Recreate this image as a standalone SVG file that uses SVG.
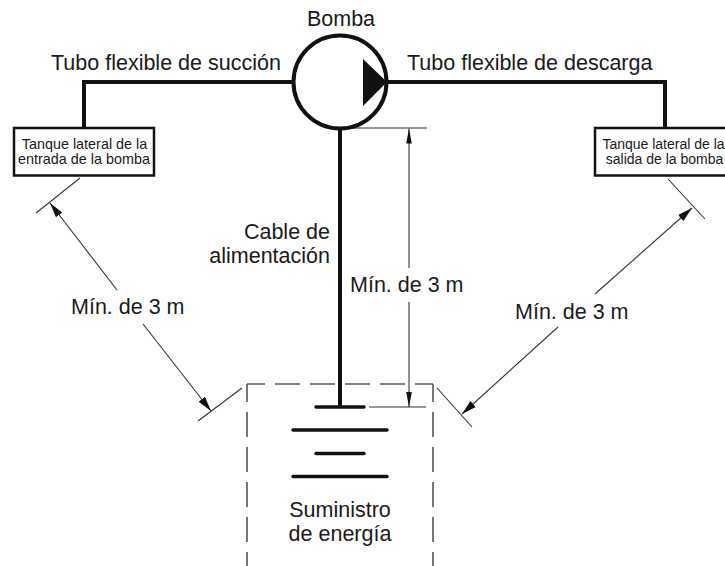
<svg xmlns="http://www.w3.org/2000/svg" width="725" height="566" viewBox="0 0 725 566">
<style>
text{font-family:"Liberation Sans",Arial,sans-serif;fill:#1a1a1a;font-size:21.5px}
.m{text-anchor:middle}
.s{font-size:14.4px}
.t{font-size:14px}
.p{fill:none;stroke:#111;stroke-width:4}
.b{fill:#fff;stroke:#111;stroke-width:2.5}
.d{fill:none;stroke:#333;stroke-width:1.1}
.da{fill:none;stroke:#555;stroke-width:1.6;stroke-dasharray:25 10;stroke-dashoffset:7}
.bar{stroke:#111;stroke-width:3.5;stroke-linecap:round}
</style>
<defs>
<marker id="a" markerUnits="userSpaceOnUse" markerWidth="16" markerHeight="8" refX="15" refY="4" orient="auto" viewBox="0 0 16 8"><path d="M0 1.200 15 4 0 6.800Z" fill="#111"/></marker>
<marker id="g" markerUnits="userSpaceOnUse" markerWidth="16" markerHeight="10" refX="15" refY="5" orient="auto" viewBox="0 0 16 10"><path d="M0 1 15 5 0 9Z" fill="#111"/></marker>
</defs>
<rect width="725" height="566" fill="#fff"/>
<g id="connectors">
<path class="p" d="M84 128V82H294M665 128V82H386M340 128V407"/>
<path class="d" d="M340 128H427M369 407H426M36 213 80 178M198 421 242 388M668 179 705 219M437 388 472 427"/>
<path class="d" marker-end="url(#a)" d="M409 268V128.500"/>
<path class="d" marker-end="url(#a)" d="M409 302V407"/>
<path class="d" marker-end="url(#g)" d="M117 290 50 203"/>
<path class="d" marker-end="url(#g)" d="M143 324 211 411"/>
<path class="d" marker-end="url(#g)" d="M595 294 692 208"/>
<path class="d" marker-end="url(#g)" d="M558 327 462 414"/>
</g>
<g id="bomba">
<circle cx="340" cy="82" r="46.5" fill="#fff" stroke="#111" stroke-width="4"/>
<path d="M363 59 387 82 363 106Z" fill="#111"/>
<text class="m" x="341" y="26">Bomba</text>
</g>
<g id="tubo-succion"><text x="51" y="70">Tubo flexible de succión</text></g>
<g id="tubo-descarga"><text x="407" y="70">Tubo flexible de descarga</text></g>
<g id="tanque-entrada">
<rect class="b" x="14" y="128" width="140" height="47.5"/>
<text class="m s" x="84.500" y="149">Tanque lateral de la</text>
<text class="m s" x="84" y="164">entrada de la bomba</text>
</g>
<g id="tanque-salida">
<rect class="b" x="595" y="128" width="140" height="47.5"/>
<text class="m t" x="663.500" y="149">Tanque lateral de la</text>
<text class="m t" x="664.500" y="164">salida de la bomba</text>
</g>
<g id="cable"><text x="330" y="239" text-anchor="end">Cable de</text><text x="330" y="263" text-anchor="end">alimentación</text></g>
<g id="dim-centro"><text x="350" y="292">Mín. de 3 m</text></g>
<g id="dim-izq"><text x="71" y="314">Mín. de 3 m</text></g>
<g id="dim-der"><text x="515" y="319">Mín. de 3 m</text></g>
<g id="suministro">
<path class="da" d="M247 384V566M433 384V566M247 384H433"/>
<path class="bar" d="M316 407H364M293 430H387M316 453.500H364M293 476.500H387"/>
<text class="m" x="340" y="517">Suministro</text>
<text class="m" x="340" y="541">de energía</text>
</g>
</svg>
